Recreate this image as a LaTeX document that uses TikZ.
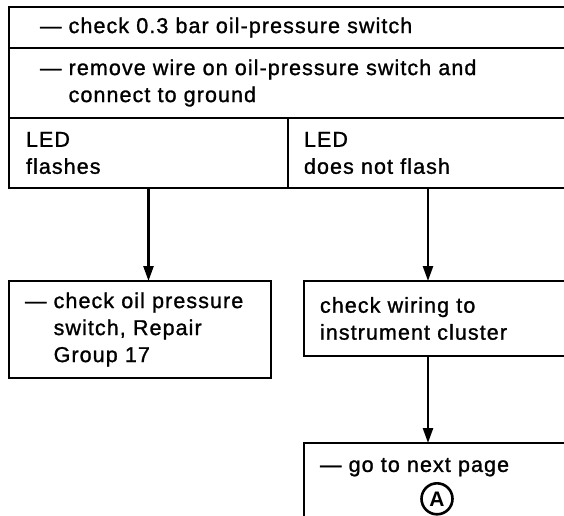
\documentclass[tikz,border=0pt]{standalone}
\usepackage{fontspec}
\setmainfont{Liberation Sans}[LetterSpace=5, FakeBold=1.2]
\newfontfamily\plainsans{Liberation Sans}
\usetikzlibrary{positioning, arrows.meta}

\begin{document}
\begin{tikzpicture}[
    x=1pt, y=1pt,           % 座標はすべて pt 単位
    line width=2.8pt,       % 枠線は太め
    >={Triangle[length=15pt, width=10pt]},
    font=\fontsize{21.5}{27}\selectfont,
    % 【枠】左上を基準に置くボックス
    cell_box/.style={
        draw, anchor=north west, align=left,
        inner xsep=16pt, inner ysep=0pt, outer sep=0pt
    },
    flow_arrow/.style={->, line width=2.5pt}
]
    \useasboundingbox (0, 0) rectangle (564, 515);
    \clip (0, 0) rectangle (564, 515);

    % --- 1. 上段の表（右端は紙面の外へ） ---
    \node [cell_box, inner xsep=31pt, minimum width=559pt, minimum height=41pt,
        text width=497pt] (check_sw) at (9, 508)
        {— check 0.3 bar oil-pressure switch};
    \node [cell_box, inner xsep=31pt, minimum width=559pt, minimum height=70pt,
        text width=497pt] (remove_wire) at (9, 467)
        {— remove wire on oil-pressure switch and\\
         \phantom{—~}connect to ground};

    % 【LED の二分岐】
    \node [cell_box, inner xsep=17pt, minimum width=279pt, minimum height=70pt,
        text width=245pt] (led_yes) at (9, 397) {LED\\flashes};
    \node [cell_box, minimum width=280pt, minimum height=70pt,
        text width=248pt] (led_no) at (288, 397) {LED\\does not flash};

    % --- 2. 下段のボックス ---
    \node [cell_box, minimum width=262pt, minimum height=97pt,
        text width=230pt] (oil_sw) at (9, 234)
        {— check oil pressure\\
         \phantom{—~}switch, Repair\\
         \phantom{—~}Group 17};
    \node [cell_box, minimum width=266pt, minimum height=75pt,
        text width=234pt] (wiring) at (304, 234)
        {check wiring to\\instrument cluster};
    \node [cell_box, minimum width=266pt, inner ysep=15pt, text depth=60pt,
        text width=234pt] (next_page) at (304, 72) {— go to next page};
    \node [draw, circle, minimum size=31pt, inner sep=0pt, line width=2.6pt,
        font=\plainsans\fontsize{21}{25}\selectfont\bfseries,
        below=39pt of next_page.north] (mark_A) {A};

    % --- 3. 矢印 ---
    \draw [flow_arrow] (led_yes.south) -- (oil_sw.north -| led_yes.south);
    \draw [flow_arrow] (led_no.south) -- (wiring.north -| led_no.south);
    \draw [flow_arrow] (wiring.south -| led_no.south) -- (next_page.north -| led_no.south);

\end{tikzpicture}
\end{document}
